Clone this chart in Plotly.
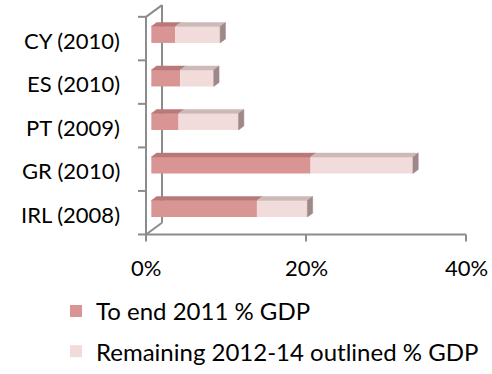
import plotly.graph_objects as go

# Bank recapitalisation support by country, as % of GDP
countries = ["IRL (2008)", "GR (2010)", "PT (2009)", "ES (2010)", "CY (2010)"]
to_end_2011 = [13.2, 19.9, 3.4, 3.6, 3.0]
remaining_2012_14 = [6.3, 12.8, 7.5, 4.2, 5.6]
x_ticks = [0, 20, 40]
x_tick_text = ["0%", "20%", "40%"]

W, H = 492, 374
PX_PER_PCT = 8.0      # horizontal scale
PX_PER_CAT = 44.0     # vertical spacing between categories
X0_PX = 146           # 0% on the front plane
K0_PX = 215           # centre of the first category band

x_range = [-X0_PX / PX_PER_PCT, (W - X0_PX) / PX_PER_PCT]
y_range = [(K0_PX - H) / PX_PER_CAT, K0_PX / PX_PER_CAT]

# oblique depth vector of the 3-D box, in data units
DX, DY = 2.0, 0.27
# bars sit in the middle third of the depth
BX0, BY0 = DX / 3, DY / 3
BDX, BDY = DX / 3, DY / 3
BAR_H = 0.38

FONT = "Lato"
FSIZE = 22
LEG_FSIZE = 24
AXIS_COL = "#8C8C8C"

C_DARK, C_DARK_TOP = "#D99594", "#B97978"
C_LIGHT, C_LIGHT_TOP = "#F2DCDB", "#CDB9B8"
C_SIDE = "#9E8888"

cats = list(range(len(countries)))
fig = go.Figure()

# front faces
fig.add_trace(go.Bar(
    orientation="h", y=[k + BY0 for k in cats], x=to_end_2011,
    base=[BX0] * len(cats), width=BAR_H,
    marker=dict(color=C_DARK, line=dict(width=0)),
    name="To end 2011 % GDP", legendgroup="a"))
fig.add_trace(go.Bar(
    orientation="h", y=[k + BY0 for k in cats], x=remaining_2012_14,
    base=[BX0 + v for v in to_end_2011], width=BAR_H,
    marker=dict(color=C_LIGHT, line=dict(width=0)),
    name="Remaining 2012-14 outlined % GDP", legendgroup="b"))


def top_faces(starts, lengths):
    xs, ys = [], []
    for k, s, l in zip(cats, starts, lengths):
        a, b = BX0 + s, BX0 + s + l
        yt = k + BY0 + BAR_H / 2
        xs += [a, b, b + BDX, a + BDX, a, None]
        ys += [yt, yt, yt + BDY, yt + BDY, yt, None]
    return xs, ys


for starts, lengths, col in [
    ([0] * len(cats), to_end_2011, C_DARK_TOP),
    (to_end_2011, remaining_2012_14, C_LIGHT_TOP),
]:
    xs, ys = top_faces(starts, lengths)
    fig.add_trace(go.Scatter(x=xs, y=ys, mode="lines", fill="toself",
                             fillcolor=col, line=dict(color=col, width=0.5),
                             showlegend=False, hoverinfo="skip"))

# right-hand end faces
sx, sy = [], []
for k, a, b in zip(cats, to_end_2011, remaining_2012_14):
    xe = BX0 + a + b
    yb, yt = k + BY0 - BAR_H / 2, k + BY0 + BAR_H / 2
    sx += [xe, xe, xe + BDX, xe + BDX, xe, None]
    sy += [yb, yt, yt + BDY, yb + BDY, yb, None]
fig.add_trace(go.Scatter(x=sx, y=sy, mode="lines", fill="toself",
                         fillcolor=C_SIDE, line=dict(color=C_SIDE, width=0.5),
                         showlegend=False, hoverinfo="skip"))

# box frame: front axes, back wall edge and the depth diagonals
k_lo, k_hi = -0.5, len(cats) - 0.5
line = dict(color=AXIS_COL, width=2)
shapes = [
    dict(type="line", x0=DX, x1=DX, y0=k_lo + DY, y1=k_hi + DY),
    dict(type="line", x0=0, x1=DX, y0=k_lo, y1=k_lo + DY),
    dict(type="line", x0=0, x1=DX, y0=k_hi, y1=k_hi + DY),
    dict(type="line", x0=0, x1=0, y0=k_lo, y1=k_hi),
    dict(type="line", x0=0, x1=x_ticks[-1], y0=k_lo, y1=k_lo),
]
for i in range(len(cats) + 1):
    yb = k_lo + i
    shapes.append(dict(type="line", x0=-1.0, x1=0, y0=yb, y1=yb))
for t in x_ticks:
    shapes.append(dict(type="line", x0=t, x1=t, y0=k_lo, y1=k_lo - 0.16))
for s in shapes:
    s.update(xref="x", yref="y", line=line, layer="below")

annotations = []
for k, name in zip(cats, countries):
    annotations.append(dict(x=-3.0, y=k - 0.04, text=name, showarrow=False,
                            xanchor="right", yanchor="middle",
                            font=dict(family=FONT, size=FSIZE, color="#000")))
for t, txt in zip(x_ticks, x_tick_text):
    annotations.append(dict(x=t, y=-1.26, text=txt, showarrow=False,
                            xanchor="center", yanchor="middle",
                            font=dict(family=FONT, size=FSIZE, color="#000")))

fig.update_layout(
    width=W, height=H,
    margin=dict(l=0, r=0, t=0, b=0),
    paper_bgcolor="white", plot_bgcolor="white",
    barmode="overlay",
    xaxis=dict(range=x_range, visible=False, fixedrange=True),
    yaxis=dict(range=y_range, visible=False, fixedrange=True),
    shapes=shapes, annotations=annotations,
    showlegend=True,
    legend=dict(x=56 / W, y=1 - 292 / H, xanchor="left", yanchor="top",
                font=dict(family=FONT, size=LEG_FSIZE, color="#000"),
                tracegroupgap=6, traceorder="grouped",
                bgcolor="rgba(0,0,0,0)", itemwidth=30),
)

fig.write_html("out.html")
